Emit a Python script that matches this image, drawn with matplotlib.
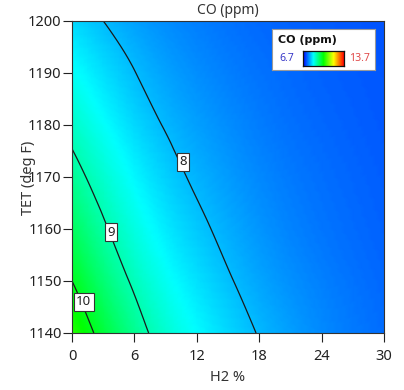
import numpy as np
import matplotlib
matplotlib.use("Agg")
import matplotlib.pyplot as plt
import matplotlib.tri as mtri
from matplotlib.colors import LinearSegmentedColormap

plt.rcParams['font.family'] = ['Noto Sans', 'DejaVu Sans']

# Data
h2 = [0, 6, 12, 18, 24, 30]                       # H2 %
tet = [1140, 1150, 1160, 1170, 1180, 1190, 1200]  # TET (deg F)
co = [
    [10.48, 9.22, 8.45, 7.98, 7.66, 7.46],  # 1140
    [10.00, 8.92, 8.26, 7.85, 7.59, 7.42],  # 1150
    [9.57, 8.65, 8.09, 7.74, 7.52, 7.38],   # 1160
    [9.19, 8.42, 7.94, 7.65, 7.47, 7.35],   # 1170
    [8.84, 8.20, 7.81, 7.57, 7.42, 7.32],   # 1180
    [8.52, 8.01, 7.69, 7.50, 7.38, 7.30],   # 1190
    [8.21, 7.82, 7.58, 7.43, 7.34, 7.28],   # 1200
]
levels = [8, 9, 10]
label_pos = {8: (10.67, 1172.9), 9: (3.78, 1159.4), 10: (1.12, 1146.0)}
zmin, zmax = 6.7, 13.7
xticks = [0, 6, 12, 18, 24, 30]
yticks = [1140, 1150, 1160, 1170, 1180, 1190, 1200]

cmap = LinearSegmentedColormap.from_list(
    "de", [(0, "#0000ff"), (0.25, "#00ffff"), (0.5, "#00ff00"),
           (0.75, "#ffff00"), (1.0, "#ff0000")])

fig = plt.figure(figsize=(4.04, 3.90), dpi=100)
ax = fig.add_axes([72/404, 1-333/390, 312/404, 312/390])

H, T = np.meshgrid(h2, tet)
Z = np.array(co)
# scale TET so the triangulation is well-conditioned, then smooth with the
# library's cubic interpolator
Ts = (T - 1140) / 2.0
tri = mtri.Triangulation(H.ravel(), Ts.ravel())
interp = mtri.CubicTriInterpolator(tri, Z.ravel(), kind='min_E')
refiner = mtri.UniformTriRefiner(tri)
tri_f, z_f = refiner.refine_field(Z.ravel(), triinterpolator=interp, subdiv=4)
tri_plot = mtri.Triangulation(tri_f.x, tri_f.y * 2.0 + 1140, tri_f.triangles)

ax.tripcolor(tri_plot, z_f, shading='gouraud', cmap=cmap, vmin=zmin, vmax=zmax)
ax.tricontour(tri_plot, z_f, levels=levels, colors='#1a1a1a', linewidths=0.9)

for lev, (x, y) in label_pos.items():
    ax.text(x, y, str(lev), ha='center', va='center', fontsize=9.5, color='#222222',
            zorder=5,
            bbox=dict(boxstyle='square,pad=0.18', facecolor='white',
                      edgecolor='#333333', linewidth=0.8))

ax.set_xlim(0, 30)
ax.set_ylim(1140, 1200)
ax.set_xticks(xticks)
ax.set_yticks(yticks)
ax.tick_params(axis='both', direction='out', length=6.5, width=0.8,
               labelsize=10.5, colors='#222222')
ax.tick_params(axis='x', pad=5)
ax.tick_params(axis='y', pad=1)
for sp in ax.spines.values():
    sp.set_color('#333333')
    sp.set_linewidth(0.8)

ax.set_title('CO (ppm)', fontsize=10, color='#333333', pad=5)
ax.set_xlabel('H2 %', fontsize=10.5, color='#333333', labelpad=4)
fig.text(29/404, 1-178/390, 'TET (deg F)', rotation=90, ha='center', va='center',
         fontsize=10.5, color='#333333')

# Legend box
lax = fig.add_axes([272/404, 1-70/390, 103/404, 41/390])
lax.set_xlim(0, 103)
lax.set_ylim(41, 0)
lax.set_xticks([])
lax.set_yticks([])
lax.set_facecolor('white')
for sp in lax.spines.values():
    sp.set_color('#9a9a9a')
    sp.set_linewidth(0.8)
lax.text(6, 11, 'CO (ppm)', fontsize=8, fontweight='bold', color='#111111',
         ha='left', va='center', family=['DejaVu Sans'])
lax.text(7, 29.5, f'{zmin:g}', fontsize=7.5, color='#3838c8', ha='left', va='center')
lax.text(77, 29.5, f'{zmax:g}', fontsize=7.5, color='#e04848', ha='left', va='center')

cax = fig.add_axes([303/404, 1-66/390, 41/404, 15/390])
grad = np.linspace(zmin, zmax, 256)[None, :]
cax.imshow(grad, aspect='auto', cmap=cmap, vmin=zmin, vmax=zmax,
           extent=[zmin, zmax, 0, 1])
cax.set_xticks([])
cax.set_yticks([])
for sp in cax.spines.values():
    sp.set_color('#111111')
    sp.set_linewidth(0.9)

fig.savefig('out.png', dpi=100, facecolor='white')
